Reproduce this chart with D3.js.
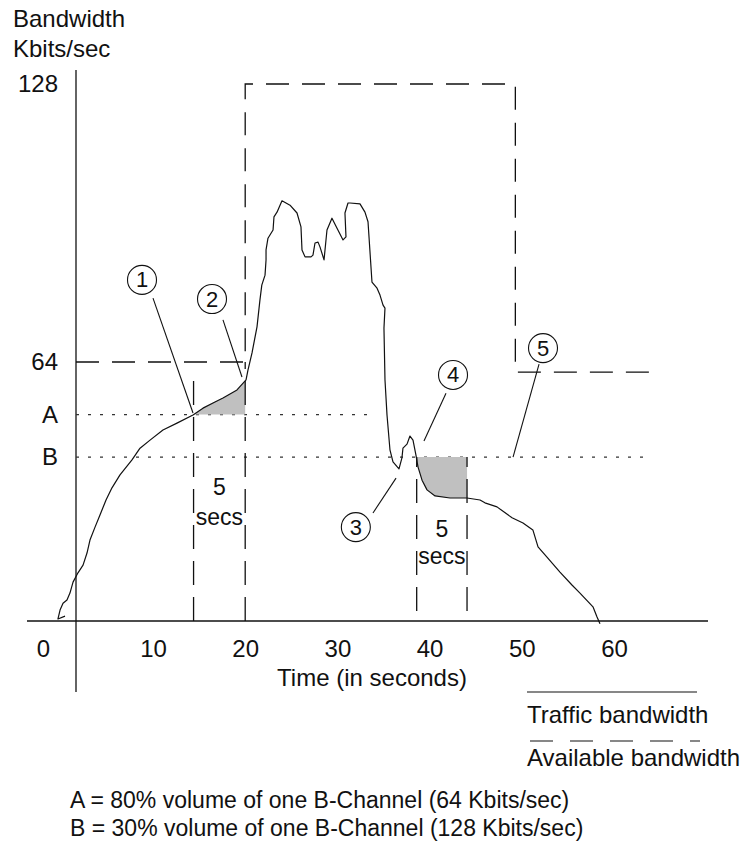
<!DOCTYPE html>
<html>
<head>
<meta charset="utf-8">
<script src="https://cdn.jsdelivr.net/npm/d3@7"></script>
<style>
  body { margin: 0; background: #fff; }
  text { font-family: "Liberation Sans", Arial, sans-serif; fill: #111; }
</style>
</head>
<body>
<div id="chart-area"></div>
<script>
// time ticks (seconds) and bandwidth ticks (Kbits/sec)
const xTicks = [0, 10, 20, 30, 40, 50, 60]
const yTickValues = [128, 64, 51, 40.5]
const yTickLabels = ["128", "64", "A", "B"]
const levelA = 51
const levelB = 40.5

// traffic bandwidth curve
const trafficTime = [2.0, 1.36, 1.55, 1.82, 2.18, 2.45, 2.73, 3.18, 3.64, 4.0, 4.27, 4.73, 5.18, 5.73, 6.27, 7.0,
  8.09, 8.82, 9.73, 11.08, 12.6, 14.34, 15.42, 16.72, 17.59, 19.11, 20.09, 20.3, 20.74, 21.28, 21.6, 21.8,
  22.15, 22.26, 22.26, 22.47, 23.02, 23.12, 23.45, 23.99, 24.86, 25.62, 26.05, 26.16, 26.49, 27.14, 27.35,
  27.57, 27.9, 28.11, 28.55, 28.87, 29.41, 29.96, 30.61, 30.93, 30.82, 31.15, 31.37, 32.45, 32.99, 33.32,
  33.75, 34.3, 34.62, 34.95, 35.16, 35.05, 35.16, 35.38, 35.7, 36.03, 36.68, 37.0, 37.11, 37.55, 37.87,
  38.2, 38.52, 38.74, 39.18, 39.72, 40.59, 42.21, 44.06, 45.47, 46.0, 47.31, 48.94, 50.13, 51.2, 51.76,
  52.73, 54.14, 55.44, 56.31, 57.72, 58.16, 58.48]
const trafficBw = [1.2, 0.5, 2.7, 4.4, 5.2, 6.9, 9.6, 11.9, 13.8, 16.8, 20.0, 23.2, 26.2, 29.9, 32.9, 36.1,
  39.8, 42.7, 44.7, 47.2, 48.9, 50.9, 52.6, 54.1, 55.1, 57.1, 59.6, 62.0, 66.1, 72.1, 78.3, 81.7,
  84.0, 87.5, 89.8, 92.5, 94.4, 97.4, 98.5, 101.1, 100.1, 98.3, 95.1, 89.8, 88.2, 88.2, 88.6,
  91.4, 91.6, 90.5, 87.5, 94.4, 97.1, 94.8, 92.1, 92.8, 98.3, 100.6, 100.6, 100.4, 98.5, 96.3,
  82.4, 81.0, 79.4, 77.1, 76.4, 71.8, 59.6, 50.9, 42.3, 39.3, 37.6, 40.3, 42.7, 43.7, 45.7,
  44.7, 41.0, 38.1, 34.8, 32.4, 30.9, 30.4, 30.4, 29.9, 29.2, 28.2, 25.5, 24.2, 22.5, 18.3,
  15.8, 12.1, 8.9, 6.9, 3.5, 1.0, -0.7]

// available bandwidth (step line)
const availTime = [3.0, 20, 20, 49.3, 49.3, 64.2]
const availBw = [64, 64, 128, 128, 61.5, 61.5]

// shaded regions
const shade1Time = [14.34, 15.42, 16.72, 17.59, 19.11, 20]
const shade1Bw = [50.9, 52.6, 54.1, 55.1, 57.1, 59.4]
const shade2Time = [38.6, 38.74, 39.18, 39.72, 40.59, 42.21, 44.06]
const shade2Bw = [40.5, 38.1, 34.8, 32.4, 30.9, 30.4, 30.4]

// 5 second window markers
const markerTime = [14.4, 20, 38.6, 44.06]
const markerTop = [62, 64, 40.5, 40.5]
const markerBottom = [0, 0, 2.5, 2.5]

// numbered callouts: circle centre and leader line
const calloutLabel = ["1", "2", "3", "4", "5"]
const calloutTime = [9.0, 16.4, 32.0, 42.54, 52.3]
const calloutBw = [82.9, 78.5, 23.2, 60.8, 67.2]
const leaderFrom = [[10.0, 78.7], [17.59, 73.7], [33.86, 26.7], [41.78, 56.3], [51.87, 63.5]]
const leaderTo = [[14.34, 51.4], [19.65, 60.3], [36.36, 35.3], [39.39, 44.5], [49.05, 40.5]]

const W = 752, H = 850
const AXIS_X = 76, BASE_Y = 621

const svg = d3.select("#chart-area").append("svg")
  .attr("width", W)
  .attr("height", H)

const x = d3.scaleLinear().domain([0, 10, 60]).range([43, 153, 614])
const y = d3.scaleLinear().domain([0, 64, 128]).range([BASE_Y, 362, 84])

// Y label
svg.append("text").attr("x", 13).attr("y", 27).attr("font-size", "24px").text("Bandwidth")
svg.append("text").attr("x", 13).attr("y", 57).attr("font-size", "24px").text("Kbits/sec")

// axes lines
svg.append("line")
  .attr("x1", AXIS_X).attr("x2", AXIS_X).attr("y1", 70).attr("y2", 692)
  .attr("stroke", "#111").attr("stroke-width", 1.3)
svg.append("line")
  .attr("x1", 27).attr("x2", 708).attr("y1", BASE_Y).attr("y2", BASE_Y)
  .attr("stroke", "#111").attr("stroke-width", 1.3)

// x tick labels
const xAxisCall = d3.axisBottom(x).tickValues(xTicks).tickSize(0).tickPadding(0)
const xAxis = svg.append("g")
  .attr("transform", `translate(0, ${BASE_Y})`)
  .call(xAxisCall)
xAxis.select(".domain").remove()
xAxis.selectAll("text")
  .attr("y", 36).attr("dy", null)
  .attr("font-size", "24px")
  .attr("font-family", "Liberation Sans, Arial, sans-serif")
  .attr("fill", "#111")

// x label
svg.append("text")
  .attr("x", 372).attr("y", 686)
  .attr("font-size", "24px").attr("text-anchor", "middle")
  .text("Time (in seconds)")

// y tick labels
svg.selectAll(".ylab").data(yTickValues).enter().append("text")
  .attr("class", "ylab")
  .attr("x", 58).attr("y", d => y(d) + 8)
  .attr("font-size", "24px").attr("text-anchor", "end")
  .text((d, i) => yTickLabels[i])

// dotted reference lines A and B
svg.append("line")
  .attr("x1", AXIS_X).attr("x2", x(33.9)).attr("y1", y(levelA)).attr("y2", y(levelA))
  .attr("stroke", "#333").attr("stroke-width", 1.2).attr("stroke-dasharray", "3,9")
svg.append("line")
  .attr("x1", AXIS_X).attr("x2", x(63.6)).attr("y1", y(levelB)).attr("y2", y(levelB))
  .attr("stroke", "#333").attr("stroke-width", 1.2).attr("stroke-dasharray", "3,9")

// shaded areas
const area1 = d3.area().x(d => x(d[0])).y0(y(levelA)).y1(d => y(d[1]))
svg.append("path")
  .datum(d3.zip(shade1Time, shade1Bw))
  .attr("d", area1).attr("fill", "#c0c0c0")
const area2 = d3.area().x(d => x(d[0])).y0(y(levelB)).y1(d => y(d[1]))
svg.append("path")
  .datum(d3.zip(shade2Time, shade2Bw))
  .attr("d", area2).attr("fill", "#c0c0c0")

// window markers
svg.selectAll(".marker").data(markerTime).enter().append("line")
  .attr("class", "marker")
  .attr("x1", d => x(d)).attr("x2", d => x(d))
  .attr("y1", (d, i) => y(markerBottom[i])).attr("y2", (d, i) => y(markerTop[i]))
  .attr("stroke", "#111").attr("stroke-width", 1.3).attr("stroke-dasharray", "24,12")

// available bandwidth
const line = d3.line().x(d => x(d[0])).y(d => y(d[1]))
svg.append("path")
  .datum(d3.zip(availTime, availBw))
  .attr("d", line)
  .attr("fill", "none").attr("stroke", "#111").attr("stroke-width", 1.3)
  .attr("stroke-dasharray", "23,13")

// traffic bandwidth
svg.append("path")
  .datum(d3.zip(trafficTime, trafficBw))
  .attr("d", line)
  .attr("fill", "none").attr("stroke", "#111").attr("stroke-width", 1.2)
  .attr("stroke-linejoin", "round")

// "5 secs" labels
const windows = [[markerTime[0], markerTime[1]], [markerTime[2], markerTime[3]]]
const secsY = [[495, 525], [537, 564]]
windows.forEach((w, i) => {
  const cx = (x(w[0]) + x(w[1])) / 2
  svg.append("text").attr("x", cx).attr("y", secsY[i][0])
    .attr("font-size", "23px").attr("text-anchor", "middle").text("5")
  svg.append("text").attr("x", cx).attr("y", secsY[i][1])
    .attr("font-size", "23px").attr("text-anchor", "middle").text("secs")
})

// callouts
svg.selectAll(".leader").data(leaderFrom).enter().append("line")
  .attr("class", "leader")
  .attr("x1", d => x(d[0])).attr("y1", d => y(d[1]))
  .attr("x2", (d, i) => x(leaderTo[i][0])).attr("y2", (d, i) => y(leaderTo[i][1]))
  .attr("stroke", "#111").attr("stroke-width", 1.1)
const callouts = svg.selectAll(".callout").data(calloutLabel).enter().append("g")
  .attr("class", "callout")
  .attr("transform", (d, i) => `translate(${x(calloutTime[i])}, ${y(calloutBw[i])})`)
callouts.append("circle").attr("r", 14.5)
  .attr("fill", "#fff").attr("stroke", "#111").attr("stroke-width", 1.1)
callouts.append("text").attr("y", 7.5)
  .attr("font-size", "22px").attr("text-anchor", "middle").text(d => d)

// legend
svg.append("line").attr("x1", 527).attr("x2", 697).attr("y1", 692).attr("y2", 692)
  .attr("stroke", "#111").attr("stroke-width", 1.2)
svg.append("text").attr("x", 527).attr("y", 723).attr("font-size", "24px").text("Traffic bandwidth")
svg.append("line").attr("x1", 530).attr("x2", 700).attr("y1", 741).attr("y2", 741)
  .attr("stroke", "#111").attr("stroke-width", 1.2).attr("stroke-dasharray", "23,17")
svg.append("text").attr("x", 527).attr("y", 766).attr("font-size", "24px").text("Available bandwidth")

// notes
svg.append("text").attr("x", 70).attr("y", 808).attr("font-size", "23px")
  .text("A = 80% volume of one B-Channel (64 Kbits/sec)")
svg.append("text").attr("x", 70).attr("y", 836).attr("font-size", "23px")
  .text("B = 30% volume of one B-Channel (128 Kbits/sec)")
</script>
</body>
</html>
